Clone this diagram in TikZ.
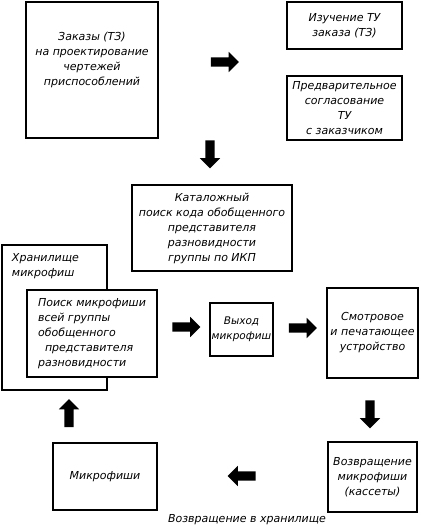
\documentclass[tikz,border=0pt]{standalone}
\usepackage{fontspec}
\setmainfont{DejaVu Sans}
\usetikzlibrary{shapes.arrows}
\tikzset{
  box/.style={draw, line width=2pt, align=center, inner sep=1pt,
    font=\itshape\fontsize{11}{15}\selectfont},
  fat/.style={single arrow, fill=black, draw=none, inner sep=4.5pt,
    minimum height=28pt,
    single arrow head extend=5.5pt, single arrow head indent=0pt}
}

\begin{document}
\begin{tikzpicture}[x=1pt,y=-1pt]
    \useasboundingbox (0,0) rectangle (420,527);

    % top row
    \node[box, minimum width=132pt, minimum height=135pt] (zakaz) at (92,70) {};
    \node[box, draw=none, yshift=10pt] (zakaztxt) at (zakaz.center)
        {Заказы (ТЗ)\\на проектирование\\чертежей\\приспособлений};
    \node[box, minimum width=115pt, minimum height=47pt] (izuch) at (344.5,25.5)
        {Изучение ТУ\\заказа (ТЗ)};
    \node[box, minimum width=115pt, minimum height=64pt] (predv) at (344.5,108)
        {Предварительное\\согласование\\ТУ\\с заказчиком};
    \node[fat] (a1) at (222.5,62) {};
    \node[fat, shape border rotate=270] (a2) at (210,152) {};

    % catalogue search
    \node[box, minimum width=160pt, minimum height=86pt] (katalog) at (212,228)
        {Каталожный\\поиск кода обобщенного\\представителя\\разновидности\\группы по ИКП};

    % middle row
    \node[box, minimum width=105pt, minimum height=145pt] (hran) at (54.5,317.5) {};
    \node[box, draw=none, anchor=north west, align=left] (hrantxt) at (10,251)
        {Хранилище\\микрофиш};
    \node[box, fill=white, align=left, minimum width=130pt, minimum height=87pt]
        (poisk) at (92,333.5)
        {Поиск микрофиши\\всей группы\\обобщенного\\\ \ представителя\\разновидности};
    \node[box, minimum width=63pt, minimum height=53pt,
        font=\itshape\fontsize{10.5}{15}\selectfont] (vyhod) at (241.5,329.5)
        {Выход\\микрофиш};
    \node[box, minimum width=91pt, minimum height=90pt] (smotr) at (372.5,333)
        {Смотровое\\и печатающее\\устройство};
    \node[fat] (a3) at (184,327) {};
    \node[fat] (a4) at (300.5,328) {};

    % bottom row
    \node[fat, shape border rotate=270] (a5) at (370,412) {};
    \node[fat, shape border rotate=90] (a7) at (69,415.5) {};
    \node[box, minimum width=104pt, minimum height=67pt] (mikrof) at (105,476.5)
        {Микрофиши};
    \node[box, minimum width=89pt, minimum height=70pt] (vozvr) at (372.5,477)
        {Возвращение\\микрофиши\\(кассеты)};
    \node[fat, shape border rotate=180] (a6) at (244,476) {};
    \node[box, draw=none] (vozvrtxt) at (247,520) {Возвращение в хранилище};
\end{tikzpicture}
\end{document}
